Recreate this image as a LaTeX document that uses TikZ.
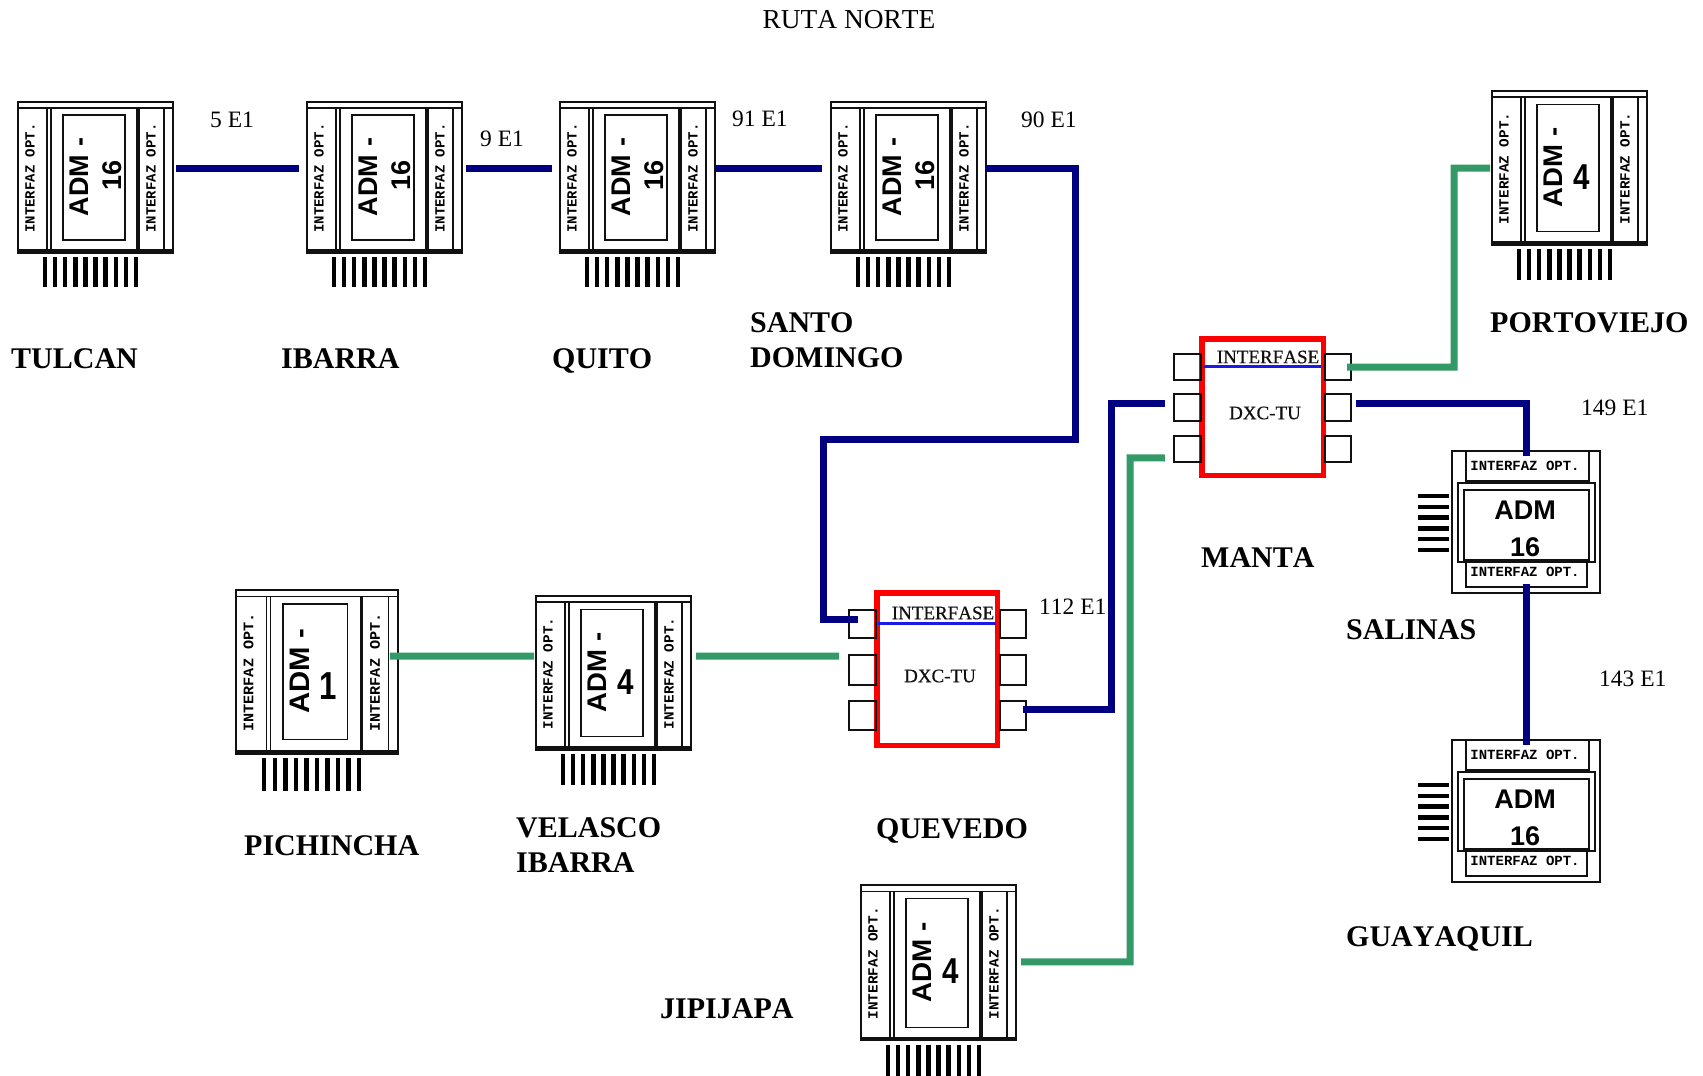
\documentclass[tikz,border=0pt]{standalone}
\usepackage{fontspec}
\setmainfont{Liberation Serif}[Kerning=Off]
\newfontfamily\panelfont{Liberation Mono}
\newfontfamily\admfont{Liberation Sans}
\newfontfamily\dxcfont{Liberation Serif}[FakeBold=0.5,Kerning=Off]
\definecolor{linkblue}{HTML}{000080}
\definecolor{linkgreen}{HTML}{339966}
\definecolor{framered}{HTML}{FF0000}
\definecolor{headblue}{HTML}{1A1AE6}
\definecolor{ink}{HTML}{111111}
\tikzset{
  x=1pt,y=-1pt,
  linkb/.style={draw=linkblue,line width=7pt,miter limit=10},
  linkg/.style={draw=linkgreen,line width=7pt,miter limit=10},
  frameline/.style={draw=ink,line width=1.8pt},
  thinline/.style={draw=ink,line width=1.3pt},
  heavyline/.style={draw=ink,line width=3.8pt},
  bar/.style={draw=black,line width=4.4pt},
  innerbox/.style={rectangle,inner sep=0pt,outer sep=0pt,anchor=north west},
  paneltxt/.style={inner sep=0pt,transform shape,font=\panelfont\bfseries\fontsize{14}{14}\selectfont},
  admtxt/.style={inner sep=0pt,transform shape,font=\admfont\bfseries\fontsize{27}{27}\selectfont},
  sideways16/.style={admtxt,rotate=90},
  upright4/.style={inner sep=0pt,font=\admfont\bfseries\fontsize{36}{36}\selectfont,xscale=.82},
  upright1/.style={inner sep=0pt,font=\admfont\bfseries\fontsize{39}{39}\selectfont,xscale=.8},
  place/.style={inner sep=0pt,anchor=west,text height=20pt,text depth=0pt,font=\bfseries\fontsize{30}{35}\selectfont},
  placetwo/.style={inner sep=0pt,anchor=west,align=left,font=\bfseries\fontsize{30}{35}\selectfont},
  qty/.style={inner sep=0pt,anchor=west,text height=16pt,text depth=0pt,font=\fontsize{23.5}{23.5}\selectfont},
  dxcbox/.style={rectangle,draw=framered,line width=5.5pt,inner sep=0pt,anchor=north west},
  portbox/.style={rectangle,draw=ink,line width=1.6pt,inner sep=0pt,anchor=north west},
  dxctxt/.style={inner sep=0pt,font=\dxcfont\fontsize{19}{19}\selectfont,text=ink},
}
% vertical ADM: name, x, y, xscale, yscale, second text, its x, its y, its style
\newcommand{\admV}[9]{%
\begin{scope}[shift={(#2,#3)},xscale=#4,yscale=#5]
  \node[innerbox,frameline,minimum width=155pt,minimum height=151pt,transform shape] (#1) at (0,0) {};
  \draw[thinline] (0,6) -- (155,6);
  \draw[heavyline] (0,149) -- (155,149);
  \draw[thinline] (29,6) -- (29,149);
  \draw[thinline] (33,6) -- (33,149);
  \draw[heavyline] (120,6) -- (120,149);
  \draw[thinline] (146,6) -- (146,149);
  \draw[thinline] (45,13) rectangle (107,138);
  \node[paneltxt,rotate=90] at (12,76) {INTERFAZ OPT.};
  \node[paneltxt,rotate=90] at (133,76) {INTERFAZ OPT.};
  \node[admtxt,rotate=90] at (61,75) {ADM\kern8pt-};
  \node[#9] at (#7,#8) {#6};
  \foreach \k in {0,...,9} \draw[bar] ({27+\k*10.1},155) -- ({27+\k*10.1},185);
\end{scope}}
% horizontal ADM: name, x, y
\newcommand{\admH}[3]{%
\begin{scope}[shift={(#2,#3)}]
  \node[innerbox,frameline,minimum width=148pt,minimum height=142pt] (#1) at (0,0) {};
  \draw[thinline] (14,0) -- (14,30) -- (137,30) -- (137,0);
  \draw[frameline] (6,32) rectangle (143,111);
  \draw[frameline] (12,39) rectangle (137,109);
  \draw[frameline] (14,111) -- (14,136) -- (135,136) -- (135,111);
  \node[paneltxt] at (73,15) {INTERFAZ OPT.};
  \node[paneltxt] at (73,121) {INTERFAZ OPT.};
  \node[admtxt] at (73,59) {ADM};
  \node[admtxt] at (73,96) {16};
  \foreach \k in {0,...,5} \draw[bar] (-34,{45+\k*10.8}) -- (-3,{45+\k*10.8});
\end{scope}}
% DXC: name, x, y, width, height, contents
\newcommand{\dxc}[6]{%
\begin{scope}[shift={(#2,#3)}]
  \node[dxcbox,minimum width=#4 pt,minimum height=#5 pt] (#1) at (0,0) {};
  #6
\end{scope}}
\begin{document}
\begin{tikzpicture}
\useasboundingbox (0,0) rectangle (1703,1076);
\fill[white] (0,0) rectangle (1703,1076);

\node[inner sep=0pt,font=\fontsize{27.4}{27.4}\selectfont] (title) at (849,19.5) {RUTA NORTE};

\admV{tulcan}{18}{102}{1}{1}{16}{94}{73}{sideways16}
\admV{ibarra}{307}{102}{1}{1}{16}{94}{73}{sideways16}
\admV{quito}{560}{102}{1}{1}{16}{94}{73}{sideways16}
\admV{santo}{831}{102}{1}{1}{16}{94}{73}{sideways16}
\admV{portoviejo}{1492}{91}{1}{1.02}{4}{90}{84}{upright4}
\admV{pichincha}{236}{590}{1.045}{1.085}{1}{88}{89}{upright1}
\admV{velasco}{536}{596}{1}{1.02}{4}{90}{84}{upright4}
\admV{jipijapa}{861}{885}{1}{1.03}{4}{90}{84}{upright4}
\admH{salinas}{1452}{451}
\admH{guayaquil}{1452}{740}

% QUEVEDO
\dxc{quevedo}{874}{590}{120.5}{152.5}{
  \node[portbox,minimum width=27.4pt,minimum height=28.4pt] (qL1) at (-26,19) {};
  \node[portbox,minimum width=27.4pt,minimum height=30.4pt] (qL2) at (-26,64) {};
  \node[portbox,minimum width=27.4pt,minimum height=29.4pt] (qL3) at (-26,110) {};
  \node[portbox,minimum width=26.4pt,minimum height=28.4pt] (qR1) at (125,19) {};
  \node[portbox,minimum width=26.4pt,minimum height=30.4pt] (qR2) at (125,64) {};
  \node[portbox,minimum width=26.4pt,minimum height=29.4pt] (qR3) at (125,110) {};
  \draw[draw=headblue,line width=3pt] (4,33) -- (122,33);
  \node[dxctxt] (qif) at (69,23) {INTERFASE};
  \node[dxctxt] (qtu) at (66,86) {DXC-TU};
}
% MANTA
\dxc{manta}{1199}{336}{121.5}{136.5}{
  \node[portbox,minimum width=27.4pt,minimum height=26.4pt] (mL1) at (-26,17) {};
  \node[portbox,minimum width=27.4pt,minimum height=27.4pt] (mL2) at (-26,57) {};
  \node[portbox,minimum width=27.4pt,minimum height=26.4pt] (mL3) at (-26,99) {};
  \node[portbox,minimum width=26.4pt,minimum height=26.4pt] (mR1) at (125,17) {};
  \node[portbox,minimum width=26.4pt,minimum height=27.4pt] (mR2) at (125,57) {};
  \node[portbox,minimum width=26.4pt,minimum height=26.4pt] (mR3) at (125,99) {};
  \draw[draw=headblue,line width=3pt] (4,30) -- (122,30);
  \node[dxctxt] (mif) at (69,21) {INTERFASE};
  \node[dxctxt] (mtu) at (66,77) {DXC-TU};
}

% connectors
\draw[linkb] ([shift={(3,-9.5)}]tulcan.east) -- ([shift={(-8,-9.5)}]ibarra.west);
\draw[linkb] ([shift={(4,-9.5)}]ibarra.east) -- ([shift={(-8,-9.5)}]quito.west);
\draw[linkb] ([shift={(1,-9.5)}]quito.east) -- ([shift={(-9,-9.5)}]santo.west);
\draw[linkb] ([shift={(0,-9.5)}]santo.east) -- ++(89,0) -- ++(0,271) -- ++(-252,0) -- ++(0,180) -- ([shift={(-4.5,-5)}]qL1.center);
\draw[linkb] ([shift={(10,-6.5)}]qR3.center) -- ++(88,0) -- ++(0,-306) -- ([shift={(-8,-4.5)}]mL2.west);
\draw[linkb] ([shift={(4,-4.5)}]mR2.east) -- ++(170,0) -- ([shift={(0,5)}]salinas.north);
\draw[linkb] ([shift={(0,-9)}]salinas.south) -- ([shift={(0,5)}]guayaquil.north);
\draw[linkg] ([shift={(9,0)}]mR1.center) -- ++(107,0) -- ++(0,-199) -- ([shift={(-2,0)}]portoviejo.west);
\draw[linkg] ([shift={(-8,-15.9)}]pichincha.east) -- ([shift={(-2,-17)}]velasco.west);
\draw[linkg] ([shift={(5,-17)}]velasco.east) -- ([shift={(-9,-14)}]qL2.west);
\draw[linkg] ([shift={(5,-1)}]jipijapa.east) -- ++(109,0) -- ++(0,-504) -- ([shift={(-8,9)}]mL3.west);

% labels
\node[place] (ltulcan) at (11,358) {TULCAN};
\node[place] (libarra) at (281,358) {IBARRA};
\node[place] (lquito) at (552,358) {QUITO};
\node[placetwo] (lsanto) at (750,340) {SANTO\\DOMINGO};
\node[place] (lporto) at (1490,322) {PORTOVIEJO};
\node[place] (lmanta) at (1201,557) {MANTA};
\node[place] (lsalinas) at (1346,629) {SALINAS};
\node[place] (lguaya) at (1346,936) {GUAYAQUIL};
\node[place] (lqueve) at (876,828) {QUEVEDO};
\node[placetwo] (lvelasco) at (516,845) {VELASCO\\IBARRA};
\node[place] (lpichi) at (244,845) {PICHINCHA};
\node[place] (ljipi) at (660,1008) {JIPIJAPA};

\node[qty] (q1) at (210,119) {5 E1};
\node[qty] (q2) at (480,138) {9 E1};
\node[qty] (q3) at (732,118) {91 E1};
\node[qty] (q4) at (1021,119) {90 E1};
\node[qty] (q5) at (1039,606) {112 E1};
\node[qty] (q6) at (1581,407) {149 E1};
\node[qty] (q7) at (1599,678) {143 E1};
\end{tikzpicture}
\end{document}
